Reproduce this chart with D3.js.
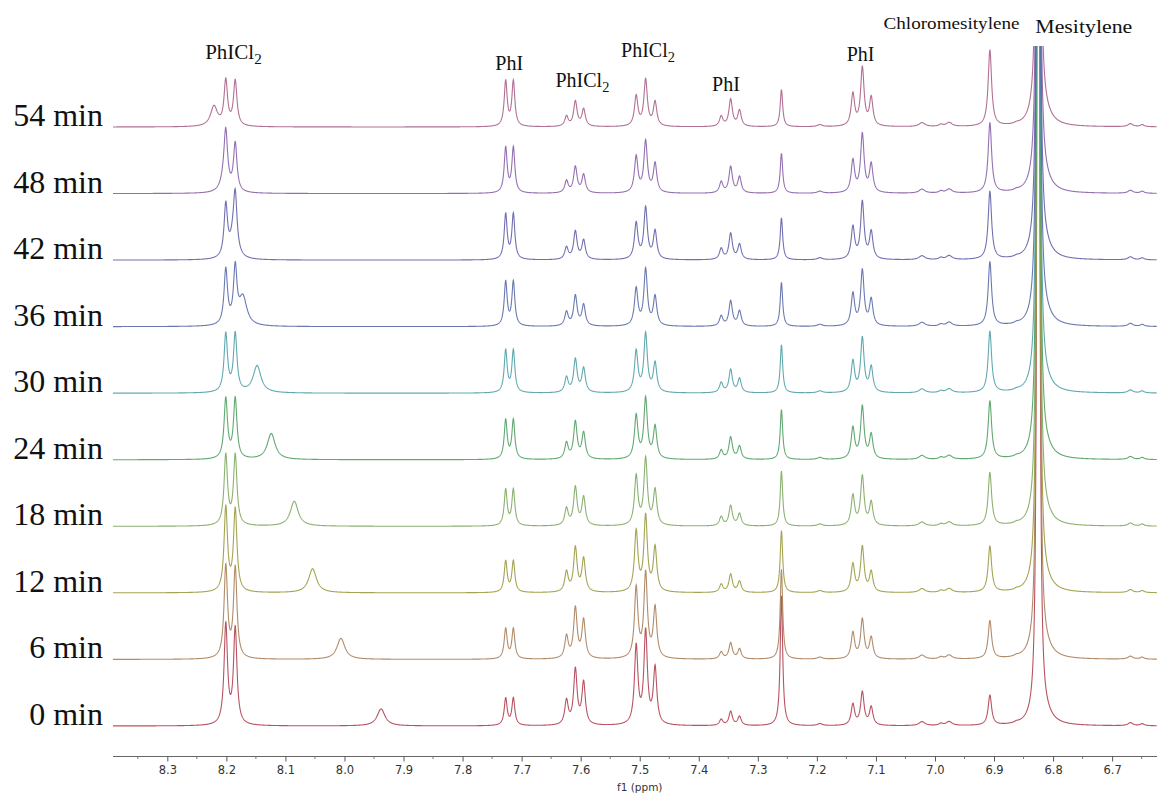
<!DOCTYPE html>
<html><head><meta charset="utf-8">
<script src="https://cdn.jsdelivr.net/npm/d3@7"></script>
<style>body{margin:0;background:#fff}svg{display:block}</style>
</head><body>
<svg id="c" width="1157" height="794"></svg>
<script>
// ---------------- DATA ----------------
const timeLabels = ["0 min","6 min","12 min","18 min","24 min","30 min","36 min","42 min","48 min","54 min"];
const traceColors = ["#b04050","#a8805a","#9a9a40","#80a860","#50a060","#50a0a8","#5a6aa8","#6060a8","#8860a8","#a86088"];
const tickValues = [8.3,8.2,8.1,8.0,7.9,7.8,7.7,7.6,7.5,7.4,7.3,7.2,7.1,7.0,6.9,6.8,6.7];
const ppmDomain = [8.392, 6.624];

// fixed peaks: position (ppm) and half-width (ppm)
const peakPos = [8.201,8.185, 7.727,7.714, 7.624,7.609,7.595, 7.506,7.490,7.474, 7.362,7.346,7.331, 7.260, 7.195, 7.139,7.123,7.108, 7.022,6.976,6.990, 6.907, 6.862, 6.825, 6.815, 6.669,6.649];
const peakHW  = [0.0035,0.0035, 0.003,0.003, 0.0035,0.0035,0.0035, 0.0035,0.0035,0.0035, 0.0035,0.0035,0.0035, 0.0025, 0.005, 0.0035,0.0035,0.0035, 0.006,0.006,0.004, 0.0035, 0.004, 0.0013, 0.015, 0.005,0.004];

// intensities per spectrum (same order as peakPos)
const h0  = [100,96, 27,27, 24,55,42, 78,92,56, 6,14,9, 130, 2, 21,33,18, 4,4,2, 30, 1, 3000, 8, 3,2];
const h6  = [92,90, 30,30, 22,50,38, 70,84,50, 7,16,10, 90, 2, 26,39,21, 4,4,2, 38, 1, 3000, 8, 3,2];
const h12 = [84,82, 31,31, 20,44,33, 60,75,44, 8,18,11, 62, 2, 28,45,20, 4,4,2, 46, 1, 3000, 8, 3,2];
const h18 = [70,70, 36,36, 17,38,28, 49,66,35, 9,20,12, 55, 2, 30,49,23, 4,4,2, 53, 1, 3000, 8, 3,2];
const h24 = [60,60, 39,39, 16,37,26, 43,60,32, 9,22,13, 50, 2, 31,52,24, 4,4,2, 58, 1, 3000, 8, 3,2];
const h30 = [58,58, 42,42, 15,33,24, 41,58,29, 10,23,14, 48, 2, 31,54,25, 4,4,2, 61, 1, 3000, 8, 3,2];
const h36 = [55,55, 44,44, 14,30,21, 37,56,29, 10,25,15, 44, 2, 32,55,26, 4,4,2, 64, 1, 3000, 8, 3,2];
const h42 = [52,52, 45,45, 12,28,19, 36,51,28, 11,26,15, 42, 2, 32,57,27, 4,4,2, 68, 1, 3000, 8, 3,2];
const h48 = [50,48, 45,45, 12,26,18, 36,51,29, 11,26,16, 40, 2, 32,58,28, 4,4,2, 70, 1, 3000, 8, 3,2];
const h54 = [45,45, 45,45, 10,25,17, 30,46,24, 10,27,16, 37, 2, 32,58,28, 4,4,2, 76, 1, 3000, 8, 3,2];
const intensities = [h0,h6,h12,h18,h24,h30,h36,h42,h48,h54];

// the exchanging peak that moves with time
const movingPos = [7.938, 8.006, 8.054, 8.085, 8.124, 8.148, 8.172, 8.188, 8.203, 8.221];
const movingH   = [17, 21, 24, 25, 26, 27, 28, 20, 15, 20];
const movingHW  = [0.008, 0.008, 0.008, 0.008, 0.008, 0.008, 0.008, 0.007, 0.007, 0.007];

// annotations
const annoText = ["PhICl|2","PhI","PhICl|2","PhICl|2","PhI","PhI","Chloromesitylene","Mesitylene"];
const annoPpm  = [8.188, 7.721, 7.597, 7.486, 7.354, 7.126, 6.972, 6.748];
const annoTop  = [59, 70, 87, 57, 91, 61, 29, 33];
const annoSize = [21, 20, 20, 20, 20, 20, 16, 19];
const annoLen  = [0, 0, 0, 0, 0, 0, 136, 97];

// ---------------- CHART ----------------
const svg = d3.select("#c");
const W = 1157, H = 794;
const x = d3.scaleLinear().domain(ppmDomain).range([113, 1157]);
const base = d3.scaleLinear().domain([0, 9]).range([726, 127]);
const yInt = d3.scaleLinear().domain([0, 100]).range([0, 100]);

svg.append("defs").append("clipPath").attr("id","clip")
  .append("rect").attr("x",113).attr("y",46).attr("width",W-113).attr("height",714);

const lor = (p, c, hw, h) => h * hw*hw / ((p-c)*(p-c) + hw*hw);
const samples = d3.range(ppmDomain[0], ppmDomain[1], -0.0004);

const g = svg.append("g").attr("clip-path","url(#clip)");
intensities.forEach((hs, i) => {
  const pts = samples.map(p => {
    let v = lor(p, movingPos[i], movingHW[i], movingH[i]);
    for (let k = 0; k < peakPos.length; k++) v += lor(p, peakPos[k], peakHW[k], hs[k]);
    return [p, v];
  });
  const line = d3.line().x(d => x(d[0])).y(d => base(i) - yInt(d[1]));
  g.append("path").attr("d", line(pts)).attr("fill","none")
    .attr("stroke", traceColors[i]).attr("stroke-width",1.1).attr("stroke-opacity",0.9);
});

// time labels
svg.append("g").selectAll("text").data(timeLabels).join("text")
  .attr("x",103).attr("y",(d,i)=>base(i)-1)
  .attr("text-anchor","end")
  .style("font-family","'Liberation Serif','Times New Roman',serif")
  .style("font-size","32px").attr("fill","#111").text(d=>d);

// axis
const axisG = svg.append("g").attr("transform","translate(0,756.5)");
const axis = d3.axisBottom(x).tickValues(tickValues).tickFormat(d3.format(".1f")).tickSize(5).tickPadding(4);
axisG.call(axis);
axisG.select(".domain").attr("d","M113,0H1157").attr("stroke","#666");
axisG.selectAll(".tick line").attr("stroke","#555");
axisG.selectAll(".tick text").style("font-family","'DejaVu Sans',Verdana,sans-serif").style("font-size","11.5px").attr("fill","#333");
const minor = d3.range(8.35, 6.6, -0.1);
axisG.selectAll(".minor").data(minor).join("line").attr("class","minor")
  .attr("x1",d=>x(d)).attr("x2",d=>x(d)).attr("y1",0).attr("y2",2.5).attr("stroke","#777");
svg.append("text").attr("x",x(7.5)).attr("y",791).attr("text-anchor","middle")
  .style("font-family","'DejaVu Sans',Verdana,sans-serif").style("font-size","10.5px").attr("fill","#333").text("f1 (ppm)");

// annotations
annoText.forEach((t, k) => {
  const parts = t.split("|");
  const tx = svg.append("text").attr("x", x(annoPpm[k])).attr("y", annoTop[k])
    .attr("text-anchor","middle")
    .style("font-family","'Liberation Serif','Times New Roman',serif")
    .style("font-size", annoSize[k]+"px").attr("fill","#111");
  if (annoLen[k]) tx.attr("textLength", annoLen[k]).attr("lengthAdjust","spacingAndGlyphs");
  tx.append("tspan").text(parts[0]);
  if (parts[1]) tx.append("tspan").attr("dy",5).style("font-size",(annoSize[k]*0.72)+"px").text(parts[1]);
});
</script>
</body></html>
